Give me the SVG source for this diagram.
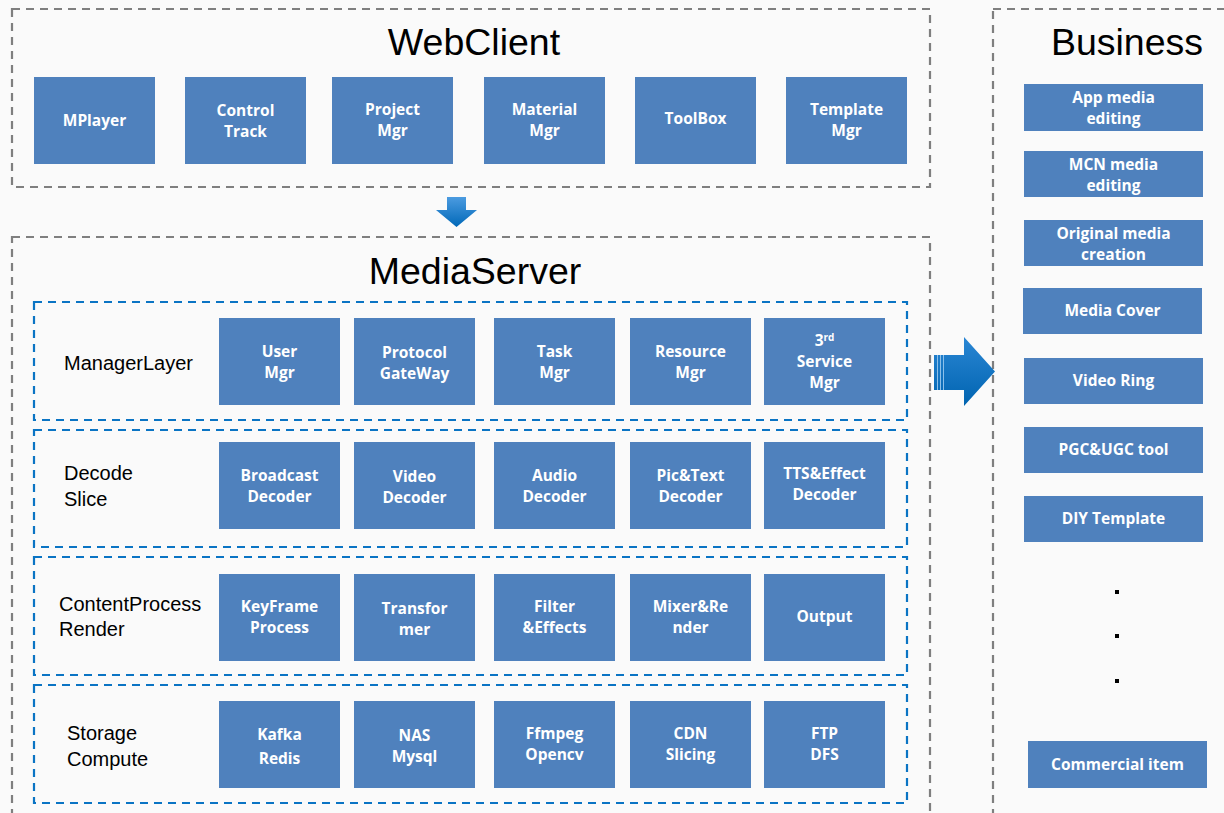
<svg xmlns="http://www.w3.org/2000/svg" width="1224" height="813" viewBox="0 0 1224 813">
<defs>
<style>
.bg{fill:#fafafa}
.outer{fill:none;stroke:#7f7f7f;stroke-width:2.2;stroke-dasharray:8 6}
.inner{fill:none;stroke:#0a74c4;stroke-width:2.2;stroke-dasharray:8 6}
.box{fill:#4f81bd}
.bt{font-family:"Open Sans","Noto Sans",sans-serif;font-weight:bold;font-size:15.5px;fill:#fff;text-anchor:middle}
.title{font-family:"Liberation Sans",Arial,sans-serif;font-size:37.5px;fill:#000;text-anchor:middle}
.lbl{font-family:"Liberation Sans",Arial,sans-serif;font-size:20px;fill:#000}
</style>
<linearGradient id="gd" x1="0" y1="0" x2="0" y2="1">
<stop offset="0" stop-color="#4b9be0"/>
<stop offset="1" stop-color="#0068b8"/>
</linearGradient>
<linearGradient id="gr" x1="0" y1="0" x2="0" y2="1">
<stop offset="0" stop-color="#2a86d4"/>
<stop offset="1" stop-color="#0064b0"/>
</linearGradient>
</defs>
<rect class="bg" x="0" y="0" width="1224" height="813"/>

<g id="webclient">
<rect class="outer" x="12" y="9" width="918" height="178"/>
<text class="title" x="474" y="55">WebClient</text>
</g>
<g id="mplayer"><rect class="box" x="34" y="77" width="121" height="87"/><text class="bt" x="94.5" y="126">MPlayer</text></g>
<g id="controltrack"><rect class="box" x="185" y="77" width="121" height="87"/><text class="bt" x="245.5" y="116">Control</text><text class="bt" x="245.5" y="137">Track</text></g>
<g id="projectmgr"><rect class="box" x="332" y="77" width="121" height="87"/><text class="bt" x="392.5" y="115">Project</text><text class="bt" x="392.5" y="136">Mgr</text></g>
<g id="materialmgr"><rect class="box" x="484" y="77" width="121" height="87"/><text class="bt" x="544.5" y="115">Material</text><text class="bt" x="544.5" y="136">Mgr</text></g>
<g id="toolbox"><rect class="box" x="635" y="77" width="121" height="87"/><text class="bt" x="695.5" y="124">ToolBox</text></g>
<g id="templatemgr"><rect class="box" x="786" y="77" width="121" height="87"/><text class="bt" x="846.5" y="115">Template</text><text class="bt" x="846.5" y="136">Mgr</text></g>

<g id="mediaserver">
<rect class="outer" x="12" y="237" width="918" height="590"/>
<text class="title" x="475" y="284">MediaServer</text>
</g>

<g id="managerlayer">
<rect class="inner" x="34" y="302" width="873" height="118"/>
<text class="lbl" x="64" y="370">ManagerLayer</text>
</g>
<g id="usermgr"><rect class="box" x="219" y="318" width="121" height="87"/><text class="bt" x="279.5" y="357">User</text><text class="bt" x="279.5" y="378">Mgr</text></g>
<g id="protocolgateway"><rect class="box" x="354" y="318" width="121" height="87"/><text class="bt" x="414.5" y="358">Protocol</text><text class="bt" x="414.5" y="379">GateWay</text></g>
<g id="taskmgr"><rect class="box" x="494" y="318" width="121" height="87"/><text class="bt" x="554.5" y="357">Task</text><text class="bt" x="554.5" y="378">Mgr</text></g>
<g id="resourcemgr"><rect class="box" x="630" y="318" width="121" height="87"/><text class="bt" x="690.5" y="357">Resource</text><text class="bt" x="690.5" y="378">Mgr</text></g>
<g id="servicemgr"><rect class="box" x="764" y="318" width="121" height="87"/><text class="bt" x="824.5" y="346">3<tspan font-size="10px" dy="-5">rd</tspan></text><text class="bt" x="824.5" y="367">Service</text><text class="bt" x="824.5" y="388">Mgr</text></g>

<g id="decodeslice">
<rect class="inner" x="34" y="430" width="873" height="117"/>
<text class="lbl" x="64" y="480">Decode</text>
<text class="lbl" x="64" y="506">Slice</text>
</g>
<g id="broadcastdecoder"><rect class="box" x="219" y="442" width="121" height="87"/><text class="bt" x="279.5" y="481">Broadcast</text><text class="bt" x="279.5" y="502">Decoder</text></g>
<g id="videodecoder"><rect class="box" x="354" y="442" width="121" height="87"/><text class="bt" x="414.5" y="482">Video</text><text class="bt" x="414.5" y="503">Decoder</text></g>
<g id="audiodecoder"><rect class="box" x="494" y="442" width="121" height="87"/><text class="bt" x="554.5" y="481">Audio</text><text class="bt" x="554.5" y="502">Decoder</text></g>
<g id="pictextdecoder"><rect class="box" x="630" y="442" width="121" height="87"/><text class="bt" x="690.5" y="481">Pic&amp;Text</text><text class="bt" x="690.5" y="502">Decoder</text></g>
<g id="ttsdecoder"><rect class="box" x="764" y="442" width="121" height="87"/><text class="bt" x="824.5" y="479" font-size="12.5px">TTS&amp;Effect</text><text class="bt" x="824.5" y="500">Decoder</text></g>

<g id="contentprocess">
<rect class="inner" x="34" y="557" width="873" height="118"/>
<text class="lbl" x="59" y="611">ContentProcess</text>
<text class="lbl" x="59" y="636">Render</text>
</g>
<g id="keyframe"><rect class="box" x="219" y="574" width="121" height="87"/><text class="bt" x="279.5" y="612">KeyFrame</text><text class="bt" x="279.5" y="633">Process</text></g>
<g id="transformer"><rect class="box" x="354" y="574" width="121" height="87"/><text class="bt" x="414.5" y="614">Transfor</text><text class="bt" x="414.5" y="635">mer</text></g>
<g id="filter"><rect class="box" x="494" y="574" width="121" height="87"/><text class="bt" x="554.5" y="612">Filter</text><text class="bt" x="554.5" y="633">&amp;Effects</text></g>
<g id="mixer"><rect class="box" x="630" y="574" width="121" height="87"/><text class="bt" x="690.5" y="612">Mixer&amp;Re</text><text class="bt" x="690.5" y="633">nder</text></g>
<g id="output"><rect class="box" x="764" y="574" width="121" height="87"/><text class="bt" x="824.5" y="622">Output</text></g>

<g id="storagecompute">
<rect class="inner" x="34" y="685" width="873" height="118"/>
<text class="lbl" x="67" y="740">Storage</text>
<text class="lbl" x="67" y="766">Compute</text>
</g>
<g id="kafka"><rect class="box" x="219" y="701" width="121" height="87"/><text class="bt" x="279.5" y="740" font-size="17.5px">Kafka</text><text class="bt" x="279.5" y="764" font-size="17.5px">Redis</text></g>
<g id="nas"><rect class="box" x="354" y="701" width="121" height="87"/><text class="bt" x="414.5" y="741">NAS</text><text class="bt" x="414.5" y="762">Mysql</text></g>
<g id="ffmpeg"><rect class="box" x="494" y="701" width="121" height="87"/><text class="bt" x="554.5" y="739">Ffmpeg</text><text class="bt" x="554.5" y="760">Opencv</text></g>
<g id="cdn"><rect class="box" x="630" y="701" width="121" height="87"/><text class="bt" x="690.5" y="739">CDN</text><text class="bt" x="690.5" y="760">Slicing</text></g>
<g id="ftp"><rect class="box" x="764" y="701" width="121" height="87"/><text class="bt" x="824.5" y="739">FTP</text><text class="bt" x="824.5" y="760">DFS</text></g>

<g id="business">
<rect class="outer" x="993" y="9" width="260" height="830"/>
<text class="title" x="1127" y="55">Business</text>
</g>
<g id="appmedia"><rect class="box" x="1024" y="84" width="179" height="47"/><text class="bt" x="1113.5" y="103">App media</text><text class="bt" x="1113.5" y="124">editing</text></g>
<g id="mcnmedia"><rect class="box" x="1024" y="151" width="179" height="46"/><text class="bt" x="1113.5" y="170">MCN media</text><text class="bt" x="1113.5" y="191">editing</text></g>
<g id="originalmedia"><rect class="box" x="1024" y="220" width="179" height="46"/><text class="bt" x="1113.5" y="239">Original media</text><text class="bt" x="1113.5" y="260">creation</text></g>
<g id="mediacover"><rect class="box" x="1023" y="288" width="179" height="46"/><text class="bt" x="1112.5" y="316">Media Cover</text></g>
<g id="videoring"><rect class="box" x="1024" y="358" width="179" height="46"/><text class="bt" x="1113.5" y="386">Video Ring</text></g>
<g id="pgcugc"><rect class="box" x="1024" y="427" width="179" height="46"/><text class="bt" x="1113.5" y="455">PGC&amp;UGC tool</text></g>
<g id="diytemplate"><rect class="box" x="1024" y="496" width="179" height="46"/><text class="bt" x="1113.5" y="524">DIY Template</text></g>
<g id="dots" fill="#000">
<rect x="1115" y="590" width="4" height="4"/>
<rect x="1115" y="634" width="4" height="4"/>
<rect x="1115" y="679" width="4" height="4"/>
</g>
<g id="commercial"><rect class="box" x="1028" y="741" width="179" height="47"/><text class="bt" x="1117.5" y="770">Commercial item</text></g>

<g id="connectors">
<path d="M447 197 H466 V210 H477 L456.5 227 L436 210 H447 Z" fill="url(#gd)"/>
<path d="M934 355 H964 V337 L995 371.5 L964 406 V390 H934 Z" fill="url(#gr)"/>
<g stroke="#8cc0ea" stroke-width="1">
<line x1="937.5" y1="355" x2="937.5" y2="390"/>
<line x1="940.5" y1="355" x2="940.5" y2="390"/>
<line x1="943.5" y1="355" x2="943.5" y2="390"/>
</g>
</g>
</svg>
